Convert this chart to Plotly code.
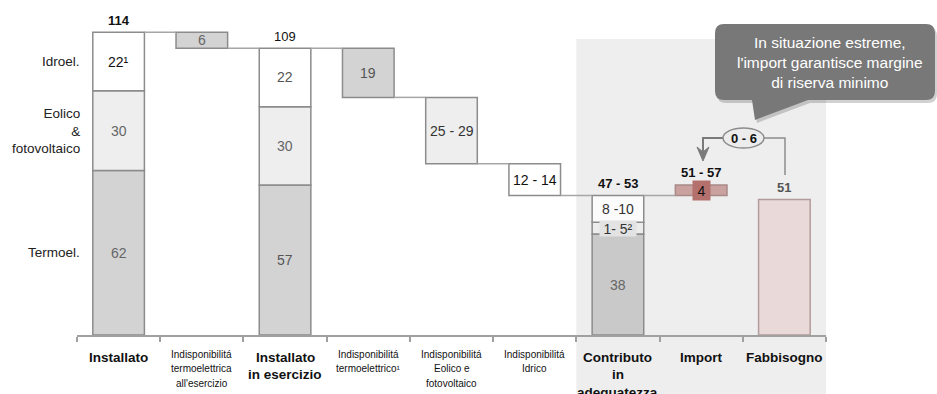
import plotly.graph_objects as go

# ---------------- data ----------------
categories = ["Installato", "Indisponibilitá<br>termoelettrica<br>all'esercizio", "Installato<br>in esercizio",
              "Indisponibilitá<br>termoelettrico¹", "Indisponibilitá<br>Eolico e<br>fotovoltaico",
              "Indisponibilitá<br>Idrico", "Contributo<br>in<br>adeguatezza", "Import", "Fabbisogno"]
category_bold = [True, False, True, False, False, False, True, True, True]

row_labels = ["Termoel.", "Eolico<br>&<br>fotovoltaico", "Idroel."]

installato = [62, 30, 22]            # termo, eolico+fv, idro
installato_labels = ["62", "30", "22¹"]
in_esercizio = [56.5, 29.5, 22]
in_esercizio_labels = ["57", "30", "22"]
indisp = [6, 18.5, 25, 12]           # steps at categories 1,3,4,5
indisp_labels = ["6", "19", "25 - 29", "12 - 14"]
contributo = [38, 4.5, 10]
contributo_labels = ["38", "1- 5²", "8 -10"]
import_val = 4
import_label = "4"
fabbisogno = 51
fabbisogno_label = "51"
total_labels = {0: "114", 2: "109", 6: "47 - 53", 7: "51 - 57"}
reserve_label = "0 - 6"
callout_text = "In situazione estreme,<br>l'import garantisce margine<br>di riserva minimo"

FONT = "Arial, Liberation Sans, sans-serif"
W = 0.62
C_TERMO, C_TERMO2, C_EOL, C_IDRO = "#d3d3d3", "#c9c9c9", "#eeeeee", "#ffffff"
EDGE = "#8c8c8c"

# ---------------- geometry helpers (pixel -> paper) ----------------
PL, PR, PT, PB = 77, 826, 5, 335
def px(x): return (x - PL) / (PR - PL)
def py(y): return (PB - y) / (PB - PT)

# ---------------- compute waterfall ----------------
start = sum(installato)
steps_x = [1, 3, 4, 5]
steps_base = []
level = start
for v in indisp:
    level -= v
    steps_base.append(level)
contrib_top = sum(contributo)

fig = go.Figure()

def stack_bases(vals):
    b, out = 0, []
    for v in vals:
        out.append(b)
        b += v
    return out

b_inst = stack_bases(installato)
b_es = stack_bases(in_esercizio)
b_co = stack_bases(contributo)

seg_colors = [[C_TERMO, C_TERMO, C_TERMO2], [C_EOL, C_EOL, "#ececec"], [C_IDRO, C_IDRO, "#fbfbfb"]]
for k in range(3):
    fig.add_trace(go.Bar(
        x=[0, 2, 6], y=[installato[k], in_esercizio[k], contributo[k]],
        base=[b_inst[k], b_es[k], b_co[k]], width=W,
        marker=dict(color=seg_colors[k], line=dict(color=EDGE, width=1.5)),
        hoverinfo="skip", showlegend=False))

fig.add_trace(go.Bar(
    x=steps_x, y=indisp, base=steps_base, width=W,
    marker=dict(color=[C_TERMO, C_TERMO, C_EOL, C_IDRO], line=dict(color=EDGE, width=1.5)),
    hoverinfo="skip", showlegend=False))

fig.add_trace(go.Bar(
    x=[7], y=[import_val], base=[contrib_top], width=W,
    marker=dict(color="#c9a19f", line=dict(color="#a88a88", width=1.5)),
    hoverinfo="skip", showlegend=False))

fig.add_trace(go.Bar(
    x=[8], y=[fabbisogno], base=[0], width=W,
    marker=dict(color="#ead9d9", line=dict(color="#b39c9c", width=1.5)),
    hoverinfo="skip", showlegend=False))

shapes = []
annotations = []

# shaded region (categories 6..8)
shapes.append(dict(type="rect", xref="paper", yref="paper", x0=6/9, x1=1.0,
                   y0=py(394), y1=py(39), fillcolor="#eeeeee", line=dict(width=0), layer="below"))

# connectors
conn = [(0, start), (1, steps_base[0]), (2, steps_base[0]), (3, steps_base[1]),
        (4, steps_base[2]), (5, steps_base[3]), (6, contrib_top)]
for xi, lv in conn:
    shapes.append(dict(type="line", xref="x", yref="y", x0=xi + W/2, x1=xi + 1 - W/2,
                       y0=lv, y1=lv, line=dict(color="#a6a6a6", width=1.5)))

def val_ann(x, y, text, color="#666666", size=14, bold=False, yshift=0, **kw):
    t = f"<b>{text}</b>" if bold else text
    annotations.append(dict(x=x, y=y, xref="x", yref="y", text=t, showarrow=False,
                            xanchor="center", yanchor="middle",
                            font=dict(family=FONT, size=size, color=color), yshift=yshift, **kw))

inst_colors = ["#666666", "#666666", "#111111"]
es_colors = ["#555555", "#666666", "#555555"]
co_colors = ["#666666", "#333333", "#333333"]
for k in range(3):
    val_ann(0, b_inst[k] + installato[k]/2, installato_labels[k], inst_colors[k])
    val_ann(2, b_es[k] + in_esercizio[k]/2, in_esercizio_labels[k], es_colors[k])
    if k != 1:
        val_ann(6, b_co[k] + contributo[k]/2, contributo_labels[k], co_colors[k])
val_ann(6, b_co[1] + contributo[1]/2, contributo_labels[1], "#333333", bgcolor="#e3e3e3",
        borderpad=0, width=36, height=15)

step_colors = ["#666666", "#555555", "#333333", "#111111"]
for i, xi in enumerate(steps_x):
    val_ann(xi, steps_base[i] + indisp[i]/2, indisp_labels[i], step_colors[i])

val_ann(7, contrib_top + import_val/2, import_label, "#111111", size=14,
        bgcolor="#b3706c", width=15, height=17)

# totals above bars
tops = {0: start, 2: sum(in_esercizio), 6: contrib_top, 7: contrib_top + import_val}
for xi, txt in total_labels.items():
    bold = xi != 2
    val_ann(xi, tops[xi], txt, "#111111", size=13, bold=bold, yshift=12)
val_ann(8, fabbisogno, fabbisogno_label, "#555555", size=13, bold=True, yshift=12)

# row labels on the left
row_centers = [installato[0]/2, installato[0] + installato[1]/2, installato[0] + installato[1] + installato[2]/2]
for lab, yc in zip(row_labels, row_centers):
    annotations.append(dict(x=px(82), y=yc, xref="paper", yref="y", text=lab, showarrow=False,
                            xanchor="right", yanchor="middle", align="right",
                            font=dict(family=FONT, size=13.5, color="#222222")))

# category labels (per line)
for i, (cat, bold) in enumerate(zip(categories, category_bold)):
    lines = cat.split("<br>")
    for j, ln in enumerate(lines):
        if bold:
            yc = 357 + j * 17.5
            txt, size = f"<b>{ln}</b>", 13.5
        else:
            yc = 354 + j * 14.5
            txt, size = ln, 10
        annotations.append(dict(x=i, y=py(yc), xref="x", yref="paper", text=txt, showarrow=False,
                                xanchor="center", yanchor="middle",
                                font=dict(family=FONT, size=size, color="#111111")))

# callout box with tail
def callout_path(dx=0, dy=0):
    x0, x1, y0, y1, r = 715 + dx, 935 + dx, 24 + dy, 100 + dy, 9
    pts = [("M", [(x0 + r, y0)]), ("L", [(x1 - r, y0)]), ("Q", [(x1, y0), (x1, y0 + r)]),
           ("L", [(x1, y1 - r)]), ("Q", [(x1, y1), (x1 - r, y1)]),
           ("L", [(808 + dx, y1)]), ("L", [(755 + dx, 120 + dy)]), ("L", [(752 + dx, y1)]),
           ("L", [(x0 + r, y1)]), ("Q", [(x0, y1), (x0, y1 - r)]),
           ("L", [(x0, y0 + r)]), ("Q", [(x0, y0), (x0 + r, y0)])]
    s = ""
    for cmd, ps in pts:
        s += cmd + " " + " ".join(f"{px(a):.5f},{py(b):.5f}" for a, b in ps) + " "
    return s + "Z"

shapes.append(dict(type="path", xref="paper", yref="paper", path=callout_path(2, 3),
                   fillcolor="rgba(0,0,0,0.18)", line=dict(width=0)))
shapes.append(dict(type="path", xref="paper", yref="paper", path=callout_path(),
                   fillcolor="#787878", line=dict(width=0)))
annotations.append(dict(x=px(830), y=py(62), xref="paper", yref="paper", text=callout_text,
                        showarrow=False, align="center", xanchor="center", yanchor="middle",
                        font=dict(family=FONT, size=15.5, color="#ffffff")))

# reserve margin bracket
def pth(points):
    return "M " + " L ".join(f"{px(a):.5f},{py(b):.5f}" for a, b in points)

shapes.append(dict(type="path", xref="paper", yref="paper", path=pth([(764, 138), (785, 138), (785, 175)]),
                   line=dict(color="#8c8c8c", width=1.5)))
shapes.append(dict(type="path", xref="paper", yref="paper", path=pth([(723, 138), (703, 138), (703, 152)]),
                   line=dict(color="#7a7a7a", width=2)))
shapes.append(dict(type="path", xref="paper", yref="paper",
                   path=pth([(697, 147), (703, 152), (709, 147), (703, 161)]) + " Z",
                   fillcolor="#7a7a7a", line=dict(color="#7a7a7a", width=1)))
shapes.append(dict(type="circle", xref="paper", yref="paper", x0=px(723), x1=px(764),
                   y0=py(148), y1=py(128), fillcolor="#ececec", line=dict(color="#8c8c8c", width=1.5)))
annotations.append(dict(x=px(743.5), y=py(138), xref="paper", yref="paper", text=f"<b>{reserve_label}</b>",
                        showarrow=False, xanchor="center", yanchor="middle",
                        font=dict(family=FONT, size=13, color="#111111")))

fig.update_layout(
    width=937, height=394,
    margin=dict(l=PL, r=937 - PR, t=PT, b=394 - PB, autoexpand=False),
    paper_bgcolor="white", plot_bgcolor="rgba(0,0,0,0)",
    barmode="overlay", showlegend=False,
    xaxis=dict(range=[-0.5, 8.5], showgrid=False, zeroline=False, showline=True,
               linecolor="#a0a0a0", linewidth=1.5, ticks="outside", ticklen=5,
               tickcolor="#a0a0a0", tickwidth=1.5,
               tickvals=[i - 0.5 for i in range(len(categories) + 1)], showticklabels=False),
    yaxis=dict(range=[0, (PB - PT) / 2.655], visible=False),
    shapes=shapes, annotations=annotations,
)

fig.write_html("out.html", config={"displayModeBar": False},
               post_script="document.body.style.margin='0';document.body.style.overflow='hidden';")
